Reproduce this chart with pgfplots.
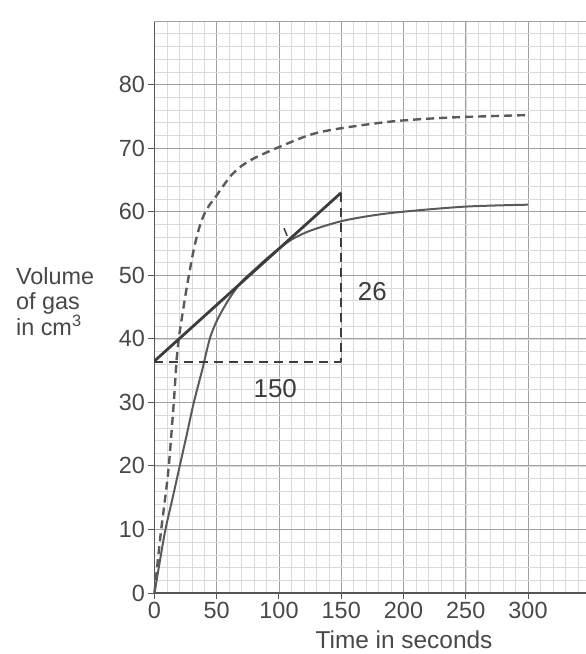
\documentclass[border=0pt]{standalone}
\usepackage{pgfplots}
\pgfplotsset{compat=1.18}
\usepackage{fontspec}
\setmainfont{Liberation Sans}

\definecolor{ink}{HTML}{484848}
\definecolor{axisc}{HTML}{555555}
\definecolor{gridmaj}{HTML}{A0A0A0}
\definecolor{gridmin}{HTML}{DADADA}
\definecolor{curve}{HTML}{5A5A5A}
\definecolor{pen}{HTML}{3C3C3C}

\begin{document}
\begin{tikzpicture}
\begin{axis}[
    at={(0,0)}, anchor=south west,
    scale only axis, width=435.75bp, height=572bp,
    xmin=0, xmax=350, ymin=0, ymax=90,
    axis x line*=bottom, axis y line*=left,
    axis line style={draw=axisc, line width=1.7bp},
    xtick={0,50,...,300}, ytick={0,10,...,80},
    extra x ticks={350}, extra y ticks={90},
    extra x tick labels={}, extra y tick labels={},
    extra tick style={grid=major, major tick length=0pt},
    minor xtick={0,10,...,350}, minor ytick={0,2,...,90},
    grid=both,
    major grid style={draw=gridmaj, line width=0.9bp},
    minor grid style={draw=gridmin, line width=0.5bp},
    tick align=outside, major tick length=6bp, minor tick length=0pt,
    tick style={draw=axisc, line width=1bp},
    ticklabel style={font=\fontsize{23.5}{27}\selectfont, text=ink},
    /pgf/number format/assume math mode=true,
    clip=false,
]
% dashed curve
\addplot[curve, line width=2.4bp, dash pattern=on 8bp off 5bp, smooth, tension=0.5] coordinates {
(0,0) (2.6,5) (5.4,10) (8.6,15) (11.5,20) (15.5,30) (17.7,36.5) (19.5,40) (21.6,42.8)
(26.1,48.3) (31.7,54.2) (36,57.5) (39.5,59.4) (44,61.0) (49,62.3) (55,64) (62,65.8)
(70,67.2) (80,68.4) (98,70) (125,72.1) (149,73.1) (191,74.2) (236,74.8) (300,75.2)
};
% solid curve
\addplot[curve, line width=2bp, smooth, tension=0.5] coordinates {
(0,0) (4.3,5) (8.8,10) (14.6,15) (20.3,20) (26,25) (31.6,30) (38.2,35) (44.4,40) (50.5,43)
(60,46.3) (70,49) (80,50.8) (90,52.6) (100,54.2) (110,55.6) (125,57.0)
(150,58.5) (175,59.4) (200,60.0) (250,60.8) (300,61.1)
};
% tangent
\addplot[pen, line width=2.8bp] coordinates {(0,36.5) (150,63)};
\addplot[pen, line width=1.5bp] coordinates {(104,57.4) (106.5,56.2)};
% construction lines
\addplot[pen, line width=2.2bp, dash pattern=on 9bp off 6bp] coordinates {(0,36.4) (150,36.4)};
\addplot[pen, line width=2.2bp, dash pattern=on 9bp off 6bp] coordinates {(150,63) (150,36.4)};
% labels
\node[anchor=west, align=left, font=\fontsize{23.5}{25}\selectfont, text=ink]
  at (axis cs:-114,45.8) {Volume\\of gas\\in cm\textsuperscript{3}};
\node[anchor=base, font=\fontsize{24.5}{28}\selectfont, text=ink]
  at (axis cs:200.4,-8.8) {Time in seconds};
\node[font=\fontsize{26}{30}\selectfont, text=pen] at (axis cs:175,47.5) {26};
\node[font=\fontsize{26}{30}\selectfont, text=pen] at (axis cs:97,32.1) {150};
\end{axis}
\pgfresetboundingbox
\path[use as bounding box] (-154.5bp,-61bp) rectangle (431.5bp,593bp);
\end{tikzpicture}
\end{document}
